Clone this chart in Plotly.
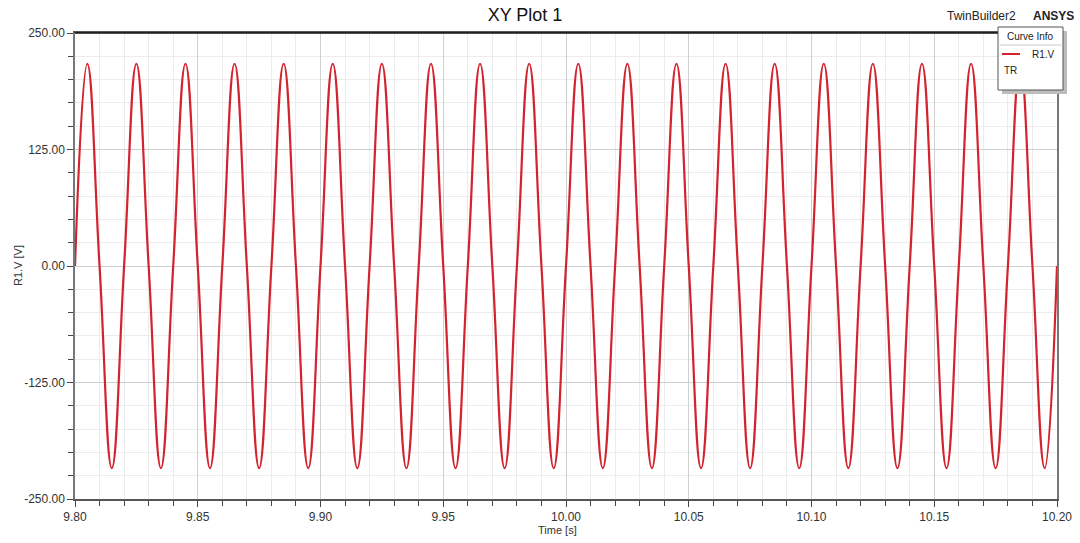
import plotly.graph_objects as go

# Time samples [s] (zero crossings, peaks and troughs)
time_s = [
    9.800, 9.805, 9.810, 9.815, 9.820, 9.825, 9.830, 9.835, 9.840, 9.845,
    9.850, 9.855, 9.860, 9.865, 9.870, 9.875, 9.880, 9.885, 9.890, 9.895,
    9.900, 9.905, 9.910, 9.915, 9.920, 9.925, 9.930, 9.935, 9.940, 9.945,
    9.950, 9.955, 9.960, 9.965, 9.970, 9.975, 9.980, 9.985, 9.990, 9.995,
    10.000, 10.005, 10.010, 10.015, 10.020, 10.025, 10.030, 10.035, 10.040, 10.045,
    10.050, 10.055, 10.060, 10.065, 10.070, 10.075, 10.080, 10.085, 10.090, 10.095,
    10.100, 10.105, 10.110, 10.115, 10.120, 10.125, 10.130, 10.135, 10.140, 10.145,
    10.150, 10.155, 10.160, 10.165, 10.170, 10.175, 10.180, 10.185, 10.190, 10.195,
    10.200,
]

# R1.V voltage [V]
r1_v = [
    0, 217, 0, -217, 0, 217, 0, -217, 0, 217,
    0, -217, 0, 217, 0, -217, 0, 217, 0, -217,
    0, 217, 0, -217, 0, 217, 0, -217, 0, 217,
    0, -217, 0, 217, 0, -217, 0, 217, 0, -217,
    0, 217, 0, -217, 0, 217, 0, -217, 0, 217,
    0, -217, 0, 217, 0, -217, 0, 217, 0, -217,
    0, 217, 0, -217, 0, 217, 0, -217, 0, 217,
    0, -217, 0, 217, 0, -217, 0, 217, 0, -217,
    0,
]

x_ticks = [9.80, 9.85, 9.90, 9.95, 10.00, 10.05, 10.10, 10.15, 10.20]
y_ticks = [-250, -125, 0, 125, 250]

RED = "#d2232f"
FONT = "Liberation Sans, Arial, sans-serif"

fig = go.Figure()
fig.add_trace(go.Scatter(
    x=time_s, y=r1_v, mode="lines",
    line=dict(color=RED, width=2.2, shape="spline", smoothing=1.3),
    name="R1.V", showlegend=False, hoverinfo="x+y",
))

W, H = 1080, 543
ml, mr, mt, mb = 75, 23, 33, 44
pw, ph = W - ml - mr, H - mt - mb

def px(x):
    return (x - ml) / pw

def py(y):
    return (H - mb - y) / ph

fig.update_layout(
    width=W, height=H,
    margin=dict(l=ml, r=mr, t=mt, b=mb, pad=0, autoexpand=False),
    paper_bgcolor="white", plot_bgcolor="white",
    font=dict(family=FONT, size=11, color="#333333"),
    title=dict(text="XY Plot 1", x=(525) / W, xanchor="center",
               y=1 - 15 / H, yanchor="middle",
               font=dict(family=FONT, size=18, color="#111111")),
    xaxis=dict(
        range=[9.80, 10.20], tickvals=x_ticks,
        ticktext=[f"{v:.2f}" for v in x_ticks],
        ticks="outside", ticklen=6, tickcolor="#444444", tickwidth=1,
        showline=True, linecolor="#555555", linewidth=1.5, mirror=True,
        showgrid=True, gridcolor="#d0d0d0", gridwidth=1,
        zeroline=False, automargin=False,
        minor=dict(dtick=0.01, tick0=9.80, ticks="outside", ticklen=5,
                   tickcolor="#444444", showgrid=True, gridcolor="#ececec"),
        tickfont=dict(size=12, color="#333333"),
    ),
    yaxis=dict(
        range=[-250, 250], tickvals=y_ticks,
        ticktext=[f"{v:.2f}" for v in y_ticks],
        ticks="outside", ticklen=6, tickcolor="#444444", tickwidth=1,
        showline=True, linecolor="#777777", linewidth=1.5, mirror=True,
        showgrid=True, gridcolor="#d0d0d0", gridwidth=1,
        zeroline=False, automargin=False,
        minor=dict(dtick=25, tick0=0, ticks="outside", ticklen=5,
                   tickcolor="#444444", showgrid=True, gridcolor="#ececec"),
        tickfont=dict(size=12, color="#333333"),
    ),
)

# Axis titles
fig.add_annotation(text="Time [s]", xref="paper", yref="paper",
                   x=px(557), y=py(530), xanchor="center", yanchor="middle",
                   showarrow=False, font=dict(family=FONT, size=11, color="#333333"))
fig.add_annotation(text="R1.V [V]", xref="paper", yref="paper", textangle=-90,
                   x=px(18), y=py(266), xanchor="center", yanchor="middle",
                   showarrow=False, font=dict(family=FONT, size=11, color="#333333"))

# Top border in black
fig.add_shape(type="line", xref="paper", yref="paper", x0=0, x1=1, y0=1, y1=1,
              line=dict(color="#111111", width=1.5))

# Header texts
fig.add_annotation(text="TwinBuilder2", xref="paper", yref="paper",
                   x=px(1018), y=py(16), xanchor="right", yanchor="middle",
                   showarrow=False, font=dict(family=FONT, size=12, color="#222222"))
fig.add_annotation(text="<b>ANSYS</b>", xref="paper", yref="paper",
                   x=px(1076), y=py(16), xanchor="right", yanchor="middle",
                   showarrow=False, font=dict(family=FONT, size=12, color="#222222"))

# Curve info box with shadow
fig.add_shape(type="rect", xref="paper", yref="paper",
              x0=px(1002), x1=px(1067), y0=py(94), y1=py(31),
              fillcolor="#bdbdbd", line=dict(width=0), layer="above")
fig.add_shape(type="rect", xref="paper", yref="paper",
              x0=px(998), x1=px(1063), y0=py(90), y1=py(27),
              fillcolor="white", line=dict(color="#555555", width=1), layer="above")
fig.add_shape(type="line", xref="paper", yref="paper",
              x0=px(998), x1=px(1063), y0=py(45), y1=py(45),
              line=dict(color="#cccccc", width=1), layer="above")
fig.add_annotation(text="Curve Info", xref="paper", yref="paper",
                   x=px(1030.5), y=py(37), xanchor="center", yanchor="middle",
                   showarrow=False, font=dict(family=FONT, size=10, color="#222222"))
fig.add_shape(type="line", xref="paper", yref="paper",
              x0=px(1002), x1=px(1020), y0=py(54), y1=py(54),
              line=dict(color=RED, width=2), layer="above")
fig.add_annotation(text="R1.V", xref="paper", yref="paper",
                   x=px(1043), y=py(54), xanchor="center", yanchor="middle",
                   showarrow=False, font=dict(family=FONT, size=10, color="#222222"))
fig.add_annotation(text="TR", xref="paper", yref="paper",
                   x=px(1002), y=py(70), xanchor="left", yanchor="middle",
                   showarrow=False, font=dict(family=FONT, size=10, color="#222222"))

fig.write_html("out.html")
